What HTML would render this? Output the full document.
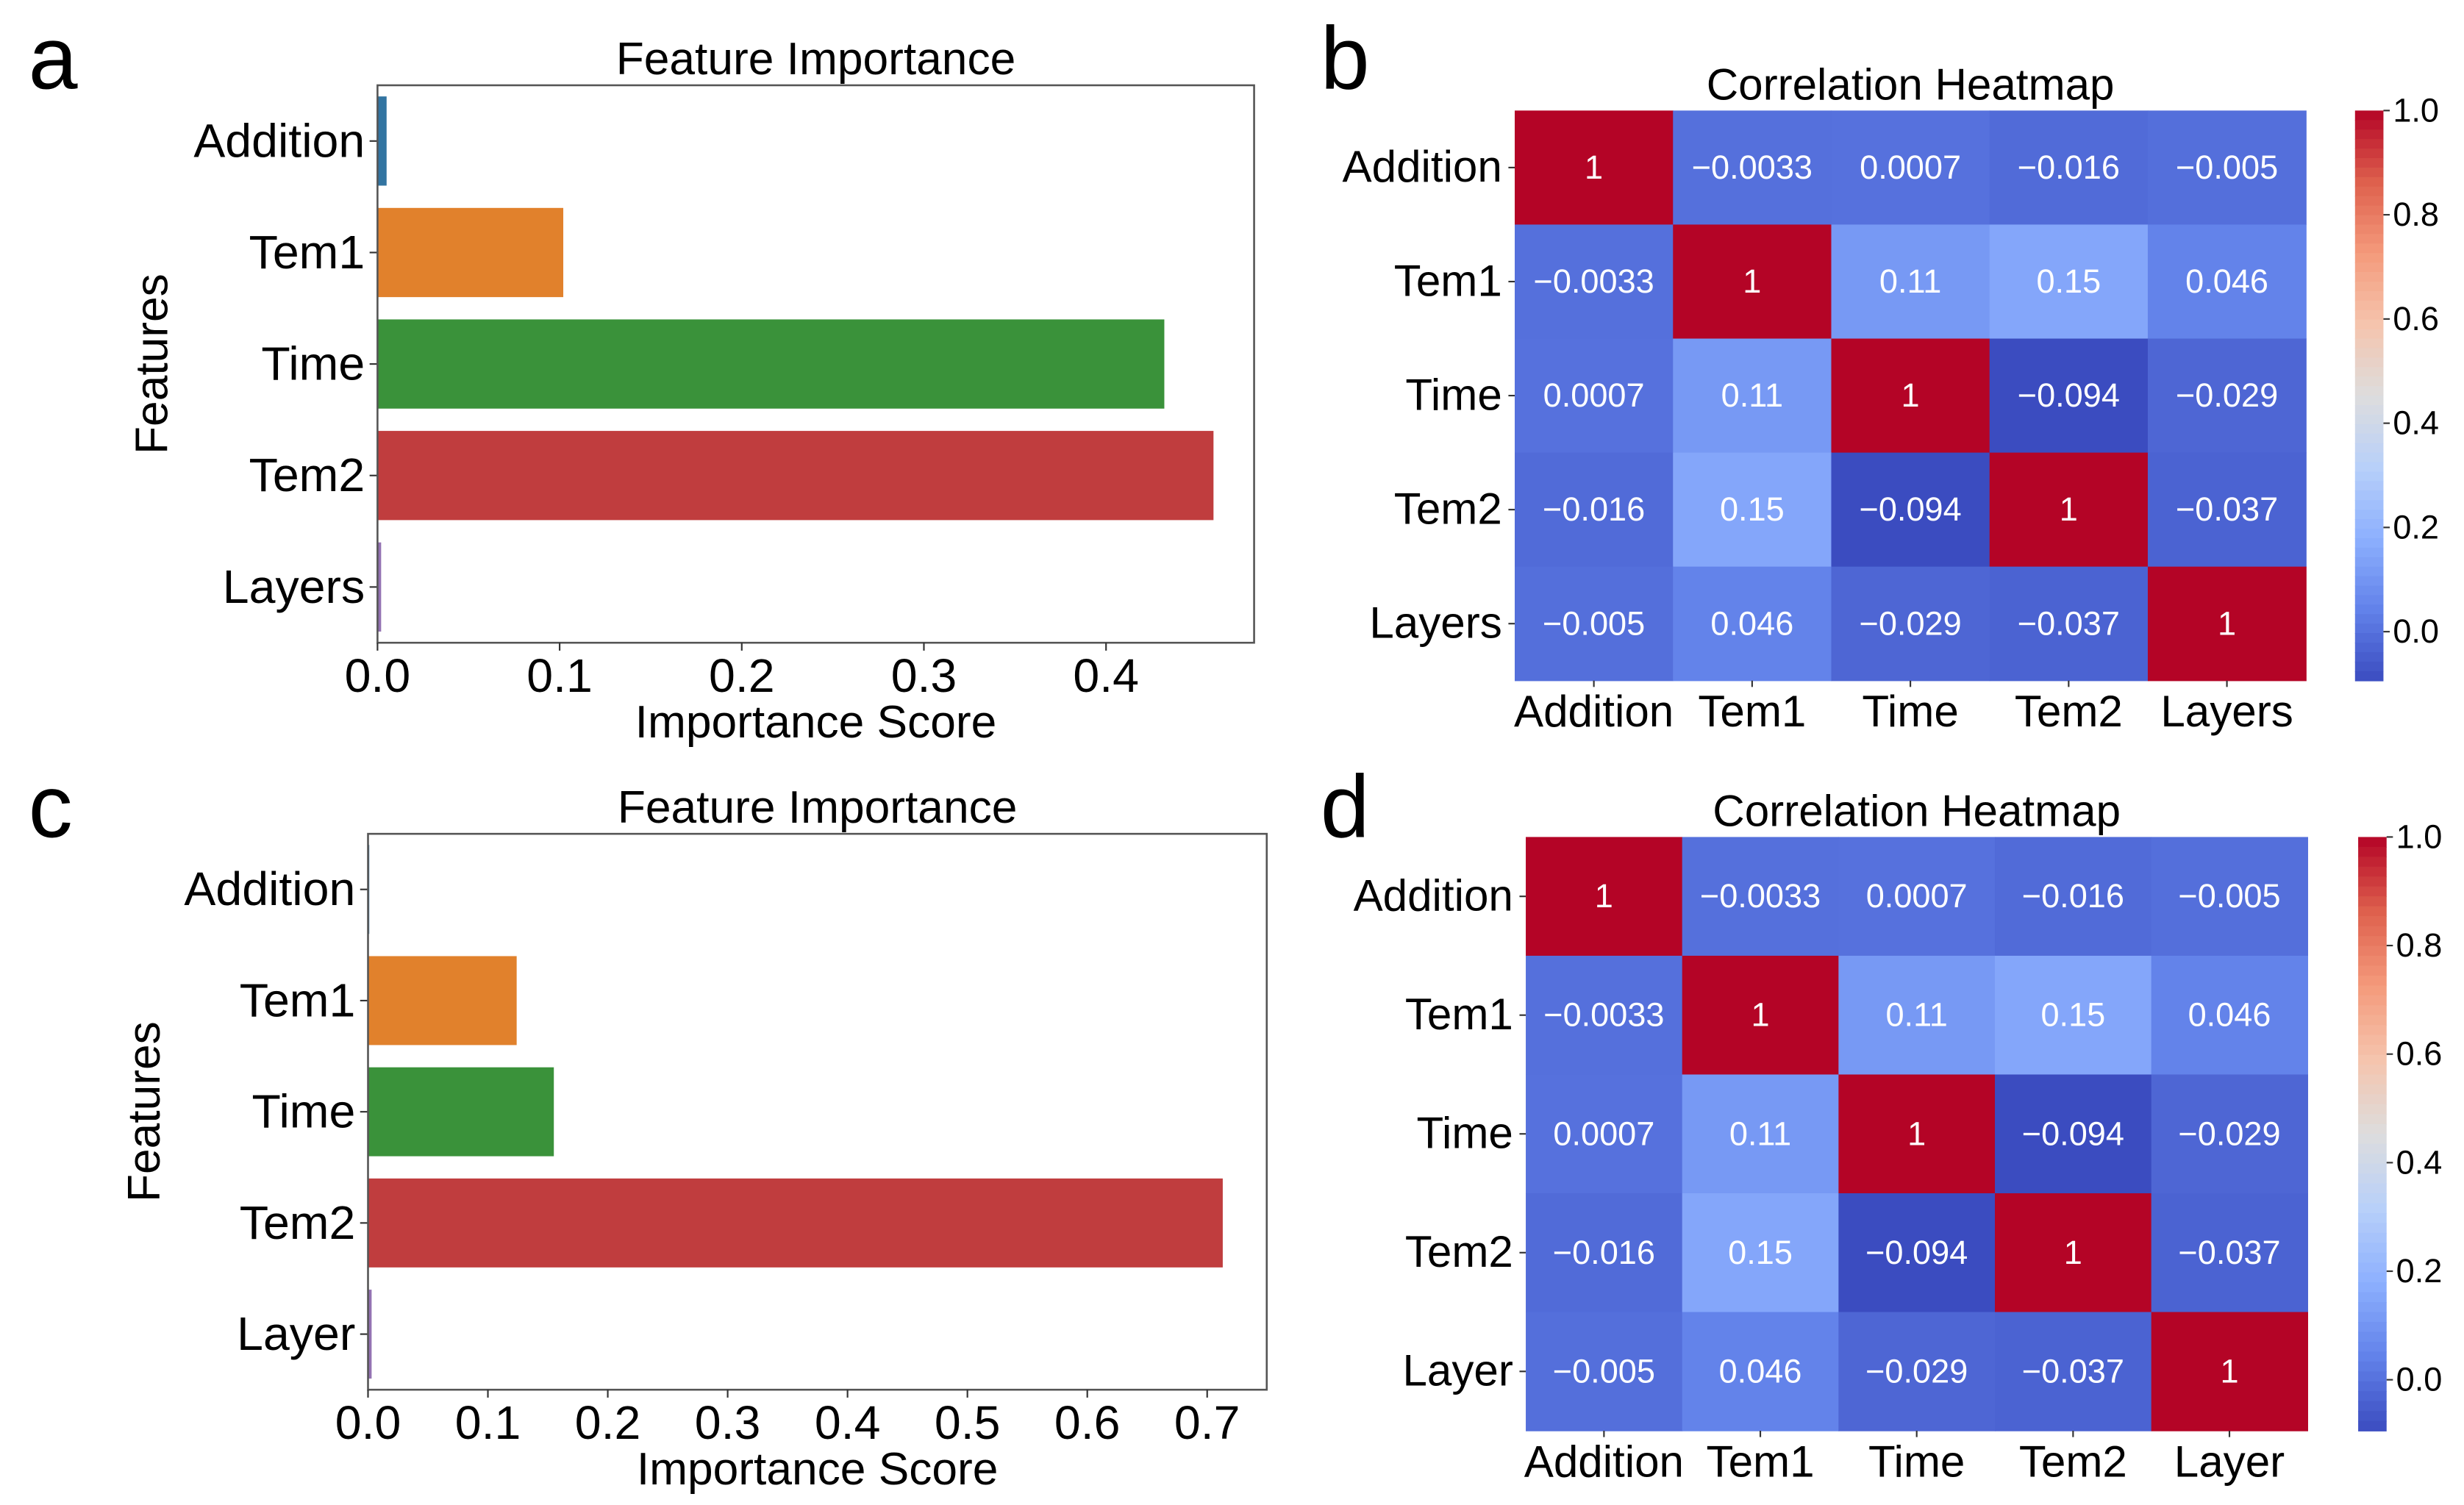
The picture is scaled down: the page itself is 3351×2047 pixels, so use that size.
<!DOCTYPE html>
<html><head><meta charset="utf-8"><style>
html,body{margin:0;padding:0;background:#fff;}
svg{display:block;}
text{font-family:"Liberation Sans",sans-serif;fill:#000;}
</style></head><body>
<svg id="fig" width="3351" height="2047" viewBox="0 0 1560 953" preserveAspectRatio="none"></svg>
<script>
const featA = ["Addition","Tem1","Time","Tem2","Layers"];
const valsA = [0.005,0.102,0.432,0.459,0.002];
const featC = ["Addition","Tem1","Time","Tem2","Layer"];
const valsC = [0.001,0.124,0.155,0.713,0.003];
const ticksA = [0,0.1,0.2,0.3,0.4];
const ticksC = [0,0.1,0.2,0.3,0.4,0.5,0.6,0.7];
const barColors = ["#3274a1","#e1812c","#3a923a","#c03d3e","#9372b2"];
const corr = [
 [1,-0.0033,0.0007,-0.016,-0.005],
 [-0.0033,1,0.11,0.15,0.046],
 [0.0007,0.11,1,-0.094,-0.029],
 [-0.016,0.15,-0.094,1,-0.037],
 [-0.005,0.046,-0.029,-0.037,1]
];
const cbTicks = [0,0.2,0.4,0.6,0.8,1.0];

const NS="http://www.w3.org/2000/svg";
const svg=document.getElementById('fig');
function mk(tag,attrs,parent){const e=document.createElementNS(NS,tag);for(const k in attrs)e.setAttribute(k,attrs[k]);(parent||svg).appendChild(e);return e;}
function txt(s,x,y,size,anchor,parent){const t=mk('text',{x:x,y:y,'font-size':size,'text-anchor':anchor||'middle'},parent);t.textContent=s;return t;}

const cw=[[0,[59,76,192]],[0.125,[98,130,234]],[0.25,[141,176,254]],[0.375,[184,208,249]],[0.5,[221,221,221]],[0.625,[245,196,173]],[0.75,[244,154,123]],[0.875,[222,96,77]],[1,[180,4,38]]];
function coolwarm(t){t=Math.max(0,Math.min(1,t));for(let i=1;i<cw.length;i++){if(t<=cw[i][0]){const a=cw[i-1],b=cw[i];const f=(t-a[0])/(b[0]-a[0]);return 'rgb('+a[1].map((v,j)=>Math.round(v+(b[1][j]-v)*f)).join(',')+')';}}return 'rgb(180,4,38)';}

function barPanel(P){
  const g=mk('g',{});
  
  
  const xs=v=>P.x0+(v/P.xmax)*(P.x1-P.x0);
  const n=P.feats.length, step=(P.y1-P.y0)/n;
  const ys=i=>P.y0+step*(i+0.5);
  P.vals.forEach((v,i)=>{
    const r=mk('rect',{x:xs(0),y:ys(i)-step*0.4,width:Math.max(0.8,xs(v)-xs(0)),height:step*0.8,fill:barColors[i]},g);
    
    
    mk('line',{x1:P.x0-5,x2:P.x0,y1:ys(i),y2:ys(i),stroke:'#333','stroke-width':1},g);
    const t=txt(P.feats[i],P.x0-8,ys(i)+10,30,'end',g);
    
    
  });
  mk('rect',{x:P.x0,y:P.y0,width:P.x1-P.x0,height:P.y1-P.y0,fill:'none',stroke:'#555','stroke-width':1.2},g);
  P.ticks.forEach(v=>{
    mk('line',{x1:xs(v),x2:xs(v),y1:P.y1,y2:P.y1+5,stroke:'#333','stroke-width':1},g);
    const t=txt(v.toFixed(1),xs(v),P.y1+31,30,'middle',g);
    
    
  });
  const ti=txt('Feature Importance',(P.x0+P.x1)/2,P.y0-7,29,'middle',g);
  
  
  const xl=txt('Importance Score',(P.x0+P.x1)/2,P.y1+60,29,'middle',g);
  
  
  const yl=txt('Features',0,0,29,'middle',g);
  yl.setAttribute('transform','translate('+(P.ylx)+','+((P.y0+P.y1)/2)+') rotate(-90)');
  
  
  const L=txt(P.letter,P.lx,P.ly,56,'start',g);
  
  
}

function heatPanel(P){
  const g=mk('g',{});
  
  
  const vmin=-0.094,vmax=1;
  const n=P.labels.length, cwid=(P.x1-P.x0)/n, chei=(P.y1-P.y0)/n;
  corr.forEach((row,i)=>row.forEach((v,j)=>{
    const r=mk('rect',{x:P.x0+j*cwid,y:P.y0+i*chei,width:cwid+0.3,height:chei+0.3,fill:coolwarm((v-vmin)/(vmax-vmin))},g);
    
    
    const lab=v===1?'1':(v<0?'\u2212'+String(Math.abs(v)):String(v));
    const t=txt(lab,P.x0+(j+0.5)*cwid,P.y0+(i+0.5)*chei+7,21,'middle',g);
    t.style.fill='#fff';
    
    
  }));
  P.labels.forEach((s,i)=>{
    const cy=P.y0+(i+0.5)*chei, cx=P.x0+(i+0.5)*cwid;
    mk('line',{x1:P.x0-4,x2:P.x0,y1:cy,y2:cy,stroke:'#333','stroke-width':1},g);
    const t=txt(s,P.x0-8,cy+9,28,'end',g);
    
    
    mk('line',{x1:cx,x2:cx,y1:P.y1,y2:P.y1+4,stroke:'#333','stroke-width':1},g);
    const t2=txt(s,cx,P.y1+29,28,'middle',g);
    
    
  });
  const ti=txt('Correlation Heatmap',(P.x0+P.x1)/2,P.y0-7,28,'middle',g);
  
  
  const cb=mk('g',{},g);
  
  
  const N=60,h=(P.y1-P.y0)/N;
  for(let k=0;k<N;k++){
    const v=vmax-(k+0.5)/N*(vmax-vmin);
    mk('rect',{x:P.cx,y:P.y0+k*h,width:18,height:h+0.4,fill:coolwarm((v-vmin)/(vmax-vmin))},cb);
  }
  cbTicks.forEach(v=>{
    const y=P.y0+(vmax-v)/(vmax-vmin)*(P.y1-P.y0);
    mk('line',{x1:P.cx+18,x2:P.cx+22,y1:y,y2:y,stroke:'#333','stroke-width':1},cb);
    const t=txt(v.toFixed(1),P.cx+24,y+7,21,'start',cb);
    
    
  });
  const L=txt(P.letter,P.lx,P.ly,56,'start',g);
  
  
}

barPanel({name:'panel-a-feature-importance',feats:featA,vals:valsA,ticks:ticksA,x0:239,x1:794,y0:54,y1:407,xmax:0.4813,ylx:106,letter:'a',lx:18,ly:56});
barPanel({name:'panel-c-feature-importance',feats:featC,vals:valsC,ticks:ticksC,x0:233,x1:802,y0:528,y1:880,xmax:0.7497,ylx:101,letter:'c',lx:18,ly:530});
heatPanel({name:'panel-b-correlation-heatmap',labels:featA,x0:959,x1:1460,y0:70,y1:431,cx:1491,letter:'b',lx:836,ly:56});
heatPanel({name:'panel-d-correlation-heatmap',labels:featC,x0:966,x1:1461,y0:530,y1:906,cx:1493,letter:'d',lx:836,ly:530});
</script>
</body></html>
